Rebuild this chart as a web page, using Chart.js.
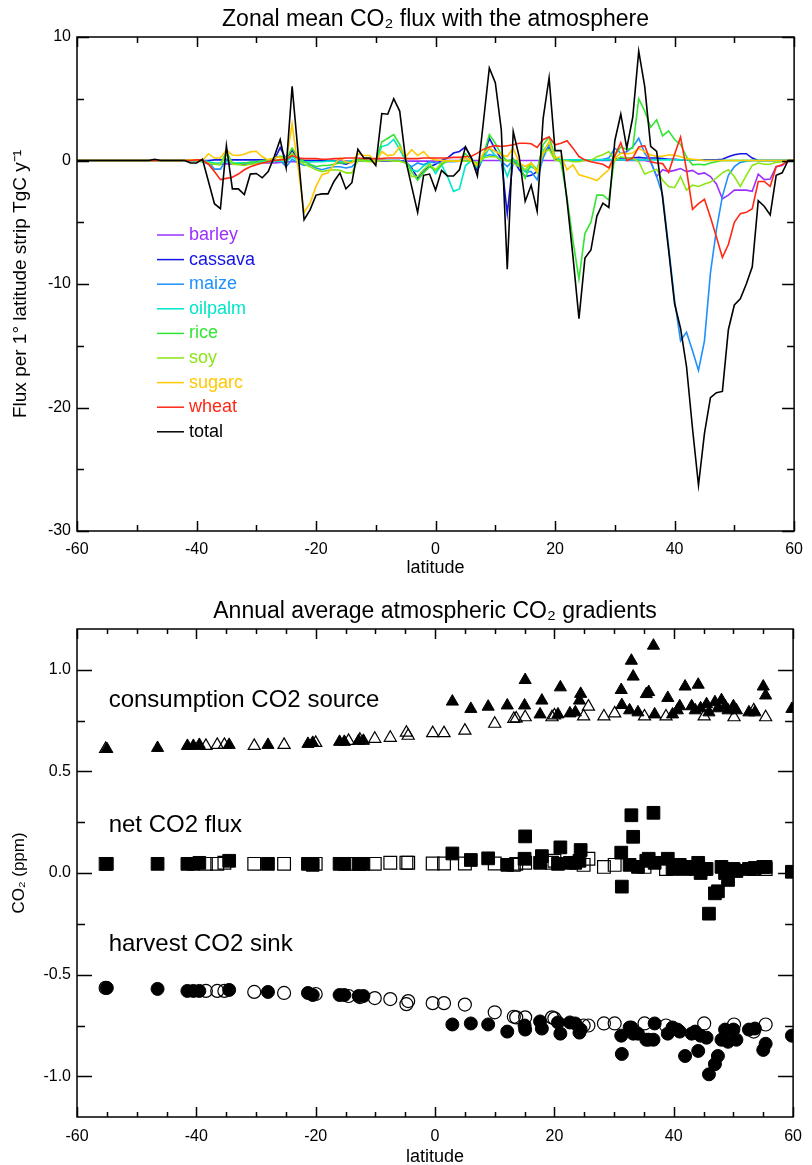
<!DOCTYPE html>
<html>
<head>
<meta charset="utf-8">
<script src="https://cdn.jsdelivr.net/npm/chart.js@4.4.1/dist/chart.umd.min.js"></script>
<style>
  body { margin: 0; background: #fff; }
  canvas { display: block; }
</style>
</head>
<body>
<canvas id="flux" width="812" height="585"></canvas>
<canvas id="gradient" width="812" height="580"></canvas>
<script>
// ---- top panel: zonal mean flux per 1 degree latitude strip ----
const lat = Array.from({ length: 121 }, (_, i) => i - 60);

const crops = ['barley', 'cassava', 'maize', 'oilpalm', 'rice', 'soy', 'sugarc', 'wheat', 'total'];
const cropColors = ['#9b30ff', '#1414e6', '#1e90ff', '#00e6c8', '#32e632', '#8ce614', '#ffc800', '#ff2814', '#000000'];

const barley = [
  0, 0, 0, 0, 0, 0, 0, 0, 0, 0,
  0, 0, 0, 0, 0, 0, 0, 0, 0, 0,
  0, -0.1, -0.3, -0.3, -0.3, -0.25, -0.3, -0.3, -0.3, -0.3,
  -0.2, -0.2, -0.2, -0.2, -0.15, -0.1, -0.1, -0.1, -0.1, -0.1,
  -0.05, -0.05, -0.05, -0.05, -0.05, -0.05, -0.05, -0.05, -0.05, -0.05,
  -0.05, -0.05, -0.05, -0.05, -0.05, -0.05, -0.05, -0.05, -0.05, -0.05,
  -0.05, 0, 0, 0, 0, 0, 0, 0, 0, 0,
  0, 0, 0, 0, 0, 0, 0, 0, 0, 0,
  0, 0, 0, 0, 0, 0, 0, 0, 0, 0,
  0, 0.05, 0, 0, 0, 0, -0.1, -1.3, -0.75, -0.9,
  -0.8, -0.65, -0.9, -0.8, -1.1, -1.0, -1.3, -1.9, -3.1, -2.8,
  -2.4, -2.4, -2.4, -2.5, -1.1, -1.55, -1.5, -0.5, -0.4, 0,
  0
];
const cassava = [
  0, 0, 0, 0, 0, 0, 0, 0, 0, 0,
  0, 0, 0, 0, 0, 0, 0, 0, 0, 0,
  0, 0, 0, 0.05, 0.05, 0.05, 0.05, 0.05, 0.05, 0.05,
  0.05, 0.05, 0.05, 0.05, 1.05, 0.1, 0.8, 0.1, 0, 0,
  0, 0, 0, 0, -0.2, -0.3, -0.1, 0, 0, 0,
  0, 0, 0, 0, 0, -0.1, -0.6, -1.4, -0.8, -0.5,
  -0.3, 0, 0.2, 0.6, 0.73, 1.1, 0.2, -0.85, 0.3, 1.8,
  0.9, 0.1, -4.3, 0.1, -0.75, -1.3, -1.2, -0.9, 0.6, 1.1,
  0.05, 0.05, 0.05, 0.05, 0.05, 0.05, 0.05, 0.05, 0.05, 0.05,
  0.1, 0.2, 0.2, 0.2, 0.25, 0.2, 0.2, 0.2, 0.15, 0.1,
  0.1, 0.05, 0.05, 0.05, 0.05, 0.05, 0.05, 0.05, 0.1, 0.3,
  0.46, 0.55, 0.55, 0.2, 0, 0, 0, 0, 0, 0,
  0
];
const maize = [
  0, 0, 0, 0, 0, 0, 0, 0, 0, 0,
  0, 0, 0, 0, 0, 0, 0, 0, 0, 0,
  0, 0, -0.1, -0.7, -0.7, 0.1, -0.3, -0.2, -0.2, -0.2,
  -0.2, -0.1, -0.1, -0.1, 0, -0.5, 0.1, -0.2, -0.4, -0.35,
  -0.6, -0.75, -0.6, -0.5, -0.5, -0.6, -0.5, -0.05, 0, 0,
  0, 0, 0, 0, 0, -0.2, -0.5, -0.2, -0.35, -0.1,
  -0.2, -0.2, -0.1, -0.1, -0.05, 0, 0, -0.2, 0.3, 0.46,
  0.4, -0.05, -0.5, 0, -0.35, -0.9, -0.9, -1.55, 0.2, 1.27,
  0.2, 0.05, 0.05, 0.05, 0.05, 0.05, 0.05, 0.05, 0.1, 0.2,
  1.0, 0.6, 0.7, 1.1, 1.8, 0.6, -0.1, -1.3, -2.8, -7.0,
  -11.3, -14.6, -13.9, -15.4, -17.0, -14.6, -9.1, -5.6, -2.9, -1.2,
  -0.5, -0.15, -0.05, 0, 0, 0, 0, 0, 0, 0,
  0
];
const oilpalm = [
  0, 0, 0, 0, 0, 0, 0, 0, 0, 0,
  0, 0, 0, 0, 0, 0, 0, 0, 0, 0,
  0, 0, -0.1, -0.2, -0.2, -0.1, -0.2, -0.2, -0.2, -0.15,
  -0.1, -0.1, -0.1, -0.05, -0.05, -0.1, 0.3, 0, -0.1, -0.1,
  -0.1, -0.1, -0.05, -0.05, -0.1, -0.1, 0, 0, 0, 0,
  0, 1.13, 1.27, 1.7, 0.9, -0.05, -0.75, -0.9, -0.43, -0.2,
  -1.05, -0.35, -1.3, -2.5, -2.3, -0.43, 0, -0.6, 0.2, 1.0,
  0.4, 0, -1.3, 0, -0.1, -0.9, -0.5, -0.75, 0.8, 1.4,
  0.2, 0.05, 0.05, 0.05, 0.05, 0.05, 0.05, 0.05, 0.05, 0.05,
  0.05, 0.05, 0.05, 0.05, 0.05, 0.05, 0.05, 0.05, 0.05, 0.05,
  0.05, 0.05, 0.05, 0.05, 0.05, 0, 0, 0, 0, 0,
  0, 0, 0, 0, 0, 0, 0, 0, 0, 0,
  0
];
const rice = [
  0, 0, 0, 0, 0, 0, 0, 0, 0, 0,
  0, 0, 0, 0, 0, 0, 0, 0, 0, 0,
  0, -0.1, -0.2, -0.3, -0.3, 0.7, -0.2, -0.3, -0.2, -0.15,
  -0.1, 0, 0.05, 0.2, 0.35, 0.2, 1.0, 0.3, -0.1, -0.3,
  -0.5, -0.4, -0.4, -0.3, -0.2, -0.2, -0.1, 0.05, 0.05, 0,
  -0.1, 1.5, 1.8, 2.1, 1.3, 0.05, -0.9, -1.6, -1.0, -0.5,
  -0.8, -0.35, -0.05, -0.05, -0.05, 0.55, 0, -0.5, 0.4, 2.1,
  1.4, 0.46, -0.05, 0.1, -0.35, -1.43, -0.2, -0.75, 1.27, 1.9,
  0.32, -0.2, -3.0, -6.5, -9.6, -5.9, -5.0, -2.8, -2.8, -3.2,
  0.4, 1.1, 0.9, 1.0, 5.0, 4.0, 2.7, 3.3, 2.0, 2.4,
  1.7, 1.3, 0.3, -0.35, -0.3, -0.35, -0.2, -0.1, 0, 0,
  0, 0, 0, 0, 0, 0, 0, 0, 0, 0,
  0
];
const soy = [
  0, 0, 0, 0, 0, 0, 0, 0, 0, 0,
  0, 0, 0, 0, 0, 0, 0, 0, 0, 0,
  0, -0.1, -0.2, -0.3, -0.35, 0.5, -0.3, -0.35, -0.4, -0.3,
  -0.25, -0.2, -0.1, 0, 0.1, 0, 0.6, 0, -0.3, -0.5,
  -0.75, -0.9, -0.8, -0.75, -0.8, -1.0, -1.0, 0, -0.05, -0.1,
  -0.1, 0, 0, -0.05, -0.05, -0.2, -1.3, -1.3, -0.75, -0.3,
  -0.75, -0.2, -0.05, -0.05, -0.05, -0.05, -0.05, -0.2, 0.2, 0.3,
  0.3, 0.05, 0, -0.2, -0.5, -0.75, -0.2, -1.0, 0.6, 0.9,
  0, 0, 0, -0.1, -0.1, 0, 0, 0.3, 0.46, 0.73,
  0, 0.3, 0.2, 0.2, -0.1, -1.1, -0.9, -0.7, -1.6, -2.1,
  -2.2, -1.3, -2.4, -2.0, -2.1, -1.9, -1.75, -1.4, -1.0, -0.75,
  -1.3, -2.1, -1.2, -0.4, -0.2, -0.3, -0.3, -0.15, -0.1, 0,
  0
];
const sugarc = [
  0, 0, 0, 0, 0, 0, 0, 0, 0, 0,
  0, 0, 0, 0, 0, 0, 0, 0, 0, 0.05,
  0.05, 0, 0.55, 0.2, 0.2, 0.85, 0.45, 0.4, 0.5, 0.7,
  0.75, 0.3, 0.05, 0.2, 0.3, -0.1, 2.95, -0.6, -4.2, -3.45,
  -2.1, -1.15, -1.0, -0.35, 0.2, -0.13, -0.2, 0.55, 0.4, 0.4,
  -0.2, 0.73, 0.4, 0.46, 1.1, 0.3, 0.87, 0.4, 0.73, 0.2,
  0.05, 0, 0, -0.05, -0.05, 0.2, 0, -0.4, 0.6, 1.0,
  0.73, 0.46, 0.32, 1.0, -0.2, -0.49, -0.2, -0.89, 0.6, 1.54,
  0.19, 0.32, -0.75, -0.35, -1.16, -1.3, -1.43, -1.62, -1.16, -0.75,
  0.19, 0.6, 0.55, 0.6, 1.0, 0.7, 0.45, 0.35, 0.35, 0.45,
  0.45, 0.3, 0.15, 0.1, 0.05, 0, 0, 0, 0, 0,
  0, 0, 0, 0, 0, 0, 0, 0, 0, 0,
  0
];
const wheat = [
  0, 0, 0, 0, 0, 0, 0, 0, 0, 0,
  0, 0, 0, 0, 0, 0, 0, 0, 0, 0,
  0.05, 0.05, -0.3, -0.9, -1.55, -1.45, -1.35, -1.1, -0.75, -0.5,
  -0.35, -0.2, -0.1, 0, 0.05, 0.1, 0.4, 0.2, 0.15, 0.15,
  0.15, 0.1, 0.1, 0.15, 0.15, 0.2, 0.2, 0.2, 0.15, 0.15,
  0.15, 0.15, 0.2, 0.2, 0.2, 0.15, 0.15, 0.15, 0.2, 0.2,
  0.2, 0.2, 0.2, 0.25, 0.25, 0.3, 0.35, 0.6, 0.9, 1.1,
  1.2, 1.13, 1.2, 1.27, 1.4, 1.4, 1.35, 1.05, 1.7, 1.9,
  1.27, 1.4, 1.6, 1.0, 0.32, 0.05, -0.1, -0.2, -0.3, -0.6,
  0.4, 1.45, 0, 0.2, 1.1, 1.2, -0.1, -0.2, -0.25, -0.97,
  0.5, 1.9, -0.75, -3.95, -3.5, -3.14, -4.6, -6.2, -7.85, -6.8,
  -5.0, -4.3, -4.2, -3.9, -1.7, -1.7, -2.1, -0.5, -0.35, 0,
  0
];
const total = [
  0, 0, 0, 0, 0, 0, 0, 0, 0, 0,
  0, 0, 0, 0.1, 0, 0, 0, 0, 0, -0.2,
  -0.2, 0.1, -1.7, -3.5, -3.9, 1.2, -2.3, -2.3, -2.75, -1.1,
  -1.05, -1.4, -0.9, 0.3, 1.7, -0.6, 6.0, 0.6, -4.8, -4.0,
  -2.8, -2.7, -2.7, -1.7, -1.0, -2.3, -1.8, 0.9, 0.2, 0.2,
  -0.4, 3.8, 3.75, 5.0, 4.0, 0.05, -2.1, -4.2, -1.2, -1.1,
  -2.4, -0.8, -1.25, -1.25, -0.75, 1.1, 0.2, -1.25, 3.1, 7.5,
  6.3, 2.5, -8.8, 2.35, 0.3, -3.3, -2.0, -4.1, 3.4, 6.7,
  0.8, 0.8, -3.25, -7.8, -12.8, -7.9, -7.25, -4.5, -3.45, -3.8,
  1.6, 3.75, 1.0, 3.5, 8.85, 6.0, 1.15, 0.73, -3.05, -7.25,
  -11.6, -13.6, -16.7, -21.7, -26.3, -22.1, -19.2, -18.8, -18.7, -13.7,
  -11.7, -11.2, -10.0, -8.6, -3.25, -3.7, -4.4, -1.2, -1.0, 0,
  0
];
const cropSeries = [barley, cassava, maize, oilpalm, rice, soy, sugarc, wheat, total];

const latTicks = [-60, -40, -20, 0, 20, 40, 60];
const fluxTicks = [-30, -20, -10, 0, 10];

// ---- bottom panel: station gradients (filled and open symbols) ----
const filledLat = [-55.0, -46.5, -41.5, -40.5, -39.5, -34.5, -28.0, -21.3, -20.5, -16.0, -15.2, -12.8, -12.0,
  2.9, 6.0, 8.9, 12.1, 15.0, 15.1, 17.9, 17.6, 20.6, 21.0, 22.6, 23.5, 24.2, 24.4,
  31.2, 31.3, 32.6, 32.9, 33.2, 34.0, 35.4, 35.8, 36.6, 36.8, 39.0, 39.8, 40.6, 41.0, 41.9,
  43.0, 43.6, 44.1, 44.5, 45.5, 45.9, 46.9, 47.4, 48.0, 48.6, 49.1, 50.0, 50.5, 52.6, 53.6, 55.0, 55.4, 59.8];
const filledSource = [0.61, 0.615, 0.625, 0.625, 0.63, 0.63, 0.63, 0.635, 0.64, 0.645, 0.645, 0.65, 0.65,
  0.843, 0.807, 0.818, 0.824, 0.824, 0.949, 0.848, 0.78, 0.78, 0.913, 0.785, 0.79, 0.848, 0.881,
  0.90, 0.826, 0.80, 1.044, 0.966, 0.79, 0.88, 0.89, 1.118, 0.78, 0.861, 0.78, 0.80, 0.82, 0.917,
  0.82, 0.80, 0.926, 0.81, 0.83, 0.79, 0.84, 0.81, 0.85, 0.82, 0.80, 0.82, 0.80, 0.79, 0.79, 0.917, 0.873, 0.807];
const filledNet = [0.045, 0.045, 0.045, 0.045, 0.05, 0.06, 0.045, 0.045, 0.04, 0.045, 0.045, 0.045, 0.045,
  0.096, 0.064, 0.072, 0.04, 0.07, 0.18, 0.083, 0.05, 0.045, 0.126, 0.05, 0.05, 0.06, 0.113,
  0.1, -0.067, 0.04, 0.284, 0.178, 0.03, 0.06, 0.07, 0.296, 0.05, 0.07, 0.02, 0.03, 0.04, 0.02,
  0.03, 0.02, 0.05, 0.0, 0.02, -0.2, -0.1, -0.09, 0.03, 0.0, -0.034, 0.02, 0.01, 0.02, 0.025, 0.03, 0.03, 0.006];
const filledSink = [-0.565, -0.57, -0.58, -0.58, -0.58, -0.575, -0.585, -0.59, -0.6, -0.6, -0.6, -0.605, -0.605,
  -0.745, -0.74, -0.745, -0.78, -0.75, -0.77, -0.765, -0.73, -0.735, -0.79, -0.735, -0.74, -0.785, -0.77,
  -0.8, -0.89, -0.76, -0.76, -0.79, -0.79, -0.82, -0.82, -0.82, -0.74, -0.79, -0.76, -0.77, -0.78, -0.9,
  -0.79, -0.78, -0.875, -0.8, -0.81, -0.99, -0.94, -0.9, -0.82, -0.77, -0.83, -0.77, -0.82, -0.77, -0.765, -0.87, -0.84, -0.8];

const openLat = [-55.2, -38.4, -36.5, -35.3, -30.3, -25.3, -20.0, -14.5, -12.6, -10.1, -7.5, -4.8, -4.5,
  -0.4, 1.5, 5.0, 10.0, 13.2, 13.6, 15.1, 19.6, 20.0, 24.9, 25.7, 28.3, 30.1, 35.1, 38.7, 45.1, 50.1, 53.4, 55.4];
const openSource = [0.61, 0.625, 0.63, 0.63, 0.625, 0.63, 0.64, 0.65, 0.655, 0.66, 0.665, 0.69, 0.675,
  0.688, 0.688, 0.70, 0.734, 0.758, 0.76, 0.766, 0.766, 0.775, 0.77, 0.818, 0.77, 0.785, 0.77, 0.77, 0.77, 0.766, 0.80, 0.766];
const openNet = [0.045, 0.045, 0.045, 0.05, 0.045, 0.045, 0.045, 0.045, 0.045, 0.045, 0.05, 0.05, 0.05,
  0.047, 0.047, 0.047, 0.047, 0.04, 0.045, 0.05, 0.05, 0.06, 0.04, 0.07, 0.03, 0.04, 0.03, 0.02, 0.02, 0.013, 0.02, 0.02];
const openSink = [-0.565, -0.58, -0.58, -0.58, -0.585, -0.59, -0.595, -0.605, -0.61, -0.615, -0.62, -0.645, -0.63,
  -0.64, -0.64, -0.647, -0.685, -0.707, -0.71, -0.71, -0.71, -0.715, -0.75, -0.75, -0.74, -0.74, -0.74, -0.75, -0.74, -0.745, -0.78, -0.745];

const ppmTicks = [-1.0, -0.5, 0.0, 0.5, 1.0];
const groupLabels = ['consumption CO2 source', 'net CO2 flux', 'harvest CO2 sink'];

// ---- shared bits ----
Chart.defaults.font.family = '"Liberation Sans", Arial, Helvetica, sans-serif';
Chart.defaults.color = '#000';

const frameTicks = {
  id: 'frameTicks',
  afterDraw(chart, args, o) {
    const { ctx, chartArea: a, scales: { x, y } } = chart;
    ctx.save();
    ctx.strokeStyle = '#000';
    ctx.lineWidth = 1.5;
    ctx.strokeRect(a.left, a.top, a.right - a.left, a.bottom - a.top);
    ctx.beginPath();
    const isMajor = (v, step) => Math.abs(v / step - Math.round(v / step)) < 1e-6;
    for (let v = Math.ceil(x.min / o.xMinor) * o.xMinor; v <= x.max + 1e-9; v += o.xMinor) {
      const px = Math.round(x.getPixelForValue(v)) + 0.5;
      const len = isMajor(v, o.xMajor) ? o.xMajorLen : o.xMinorLen;
      ctx.moveTo(px, a.bottom); ctx.lineTo(px, a.bottom - len);
      ctx.moveTo(px, a.top); ctx.lineTo(px, a.top + len);
    }
    for (let v = Math.ceil(y.min / o.yMinor - 1e-9) * o.yMinor; v <= y.max + 1e-9; v += o.yMinor) {
      const py = Math.round(y.getPixelForValue(v)) + 0.5;
      const len = isMajor(v, o.yMajor) ? o.yMajorLen : o.yMinorLen;
      ctx.moveTo(a.left, py); ctx.lineTo(a.left + len, py);
      ctx.moveTo(a.right, py); ctx.lineTo(a.right - len, py);
    }
    ctx.stroke();
    ctx.restore();
  }
};

const inlineLegend = {
  id: 'inlineLegend',
  afterDatasetsDraw(chart, args, o) {
    if (!o.display) return;
    const { ctx, chartArea: a } = chart;
    ctx.save();
    ctx.font = o.font;
    ctx.textBaseline = 'middle';
    chart.data.datasets.forEach((ds, i) => {
      const y = a.top + o.top + i * o.step;
      const x0 = a.left + o.left;
      ctx.strokeStyle = ds.borderColor;
      ctx.lineWidth = 1.5;
      ctx.beginPath();
      ctx.moveTo(x0, y); ctx.lineTo(x0 + o.len, y);
      ctx.stroke();
      ctx.fillStyle = ds.borderColor;
      ctx.fillText(ds.label, x0 + o.len + o.gap, y);
    });
    ctx.restore();
  }
};

const groupText = {
  id: 'groupText',
  afterDatasetsDraw(chart, args, o) {
    if (!o.display) return;
    const { ctx, scales: { x, y } } = chart;
    ctx.save();
    ctx.font = o.font;
    ctx.fillStyle = '#000';
    ctx.textBaseline = 'middle';
    o.labels.forEach((t, i) => ctx.fillText(t, x.getPixelForValue(o.lat), y.getPixelForValue(o.at[i])));
    ctx.restore();
  }
};

function xAxis(height, tickPad, titlePad) {
  return {
    type: 'linear', min: -60, max: 60,
    grid: { display: false, drawTicks: false }, border: { display: false },
    afterBuildTicks: s => { s.ticks = latTicks.map(v => ({ value: v })); },
    ticks: { font: { size: 16 }, padding: tickPad, maxRotation: 0, callback: v => String(v) },
    title: { display: true, text: 'latitude', font: { size: 18, lineHeight: 1 }, padding: { top: 0, bottom: titlePad } },
    afterFit: s => { s.height = height; }
  };
}

function yAxis(min, max, tickList, fmt, titleText, titleSize) {
  return {
    min, max,
    grid: { display: false, drawTicks: false }, border: { display: false },
    afterBuildTicks: s => { s.ticks = tickList.map(v => ({ value: v })); },
    ticks: { font: { size: 16 }, padding: 6, callback: fmt },
    title: { display: true, text: titleText, font: { size: titleSize, lineHeight: 1 }, padding: { top: 11, bottom: 0 } },
    afterFit: s => { s.width = 77; }
  };
}

// ---- top chart ----
new Chart(document.getElementById('flux'), {
  type: 'line',
  data: {
    datasets: crops.map((name, i) => ({
      label: name,
      data: lat.map((x, j) => ({ x, y: cropSeries[i][j] })),
      borderColor: cropColors[i],
      borderWidth: 1.6,
      pointRadius: 0,
      tension: 0,
      order: crops.length - i
    }))
  },
  options: {
    responsive: false,
    animation: false,
    layout: { padding: { left: 0, right: 11, top: 0, bottom: 0 } },
    scales: {
      x: xAxis(54, 9, 8),
      y: yAxis(-30, 10, fluxTicks, v => String(v), 'Flux per 1° latitude strip TgC y⁻¹', 19)
    },
    plugins: {
      legend: { display: false },
      tooltip: { enabled: false },
      title: {
        display: true,
        fullSize: false,
        text: 'Zonal mean CO₂ flux with the atmosphere',
        font: { size: 23, weight: 'normal', lineHeight: 1 },
        color: '#000',
        padding: { top: 8, bottom: 6 }
      },
      frameTicks: { xMajor: 20, xMinor: 10, xMajorLen: 10, xMinorLen: 6, yMajor: 10, yMinor: 5, yMajorLen: 12, yMinorLen: 7 },
      inlineLegend: { display: true, font: '18px "Liberation Sans", Arial, sans-serif', top: 198, step: 24.6, left: 80, len: 27, gap: 5 }
    }
  },
  plugins: [frameTicks, inlineLegend]
});

// ---- bottom chart ----
function pts(lats, vals) { return lats.map((x, i) => ({ x, y: vals[i] })); }
const filledStyle = { backgroundColor: '#000', borderColor: '#000', borderWidth: 1 };
const openStyle = { backgroundColor: 'rgba(0,0,0,0)', borderColor: '#000', borderWidth: 1.2 };

new Chart(document.getElementById('gradient'), {
  type: 'scatter',
  data: {
    datasets: [
      { label: 'source (filled)', data: pts(filledLat, filledSource), pointStyle: 'triangle', pointRadius: 7, ...filledStyle },
      { label: 'net (filled)', data: pts(filledLat, filledNet), pointStyle: 'rect', pointRadius: 9, ...filledStyle },
      { label: 'sink (filled)', data: pts(filledLat, filledSink), pointStyle: 'circle', pointRadius: 6.5, ...filledStyle },
      { label: 'source (open)', data: pts(openLat, openSource), pointStyle: 'triangle', pointRadius: 7, ...openStyle },
      { label: 'net (open)', data: pts(openLat, openNet), pointStyle: 'rect', pointRadius: 9, ...openStyle },
      { label: 'sink (open)', data: pts(openLat, openSink), pointStyle: 'circle', pointRadius: 6.5, ...openStyle }
    ]
  },
  options: {
    responsive: false,
    animation: false,
    layout: { padding: { left: 0, right: 11, top: 0, bottom: 0 } },
    scales: {
      x: xAxis(48, 10, -1),
      y: yAxis(-1.2, 1.2, ppmTicks, v => v.toFixed(1), 'CO₂ (ppm)', 17)
    },
    plugins: {
      legend: { display: false },
      tooltip: { enabled: false },
      title: {
        display: true,
        fullSize: false,
        text: 'Annual average atmospheric CO₂ gradients',
        font: { size: 23, weight: 'normal', lineHeight: 1 },
        color: '#000',
        padding: { top: 15, bottom: 6 }
      },
      frameTicks: { xMajor: 20, xMinor: 5, xMajorLen: 10, xMinorLen: 5, yMajor: 0.5, yMinor: 0.25, yMajorLen: 15, yMinorLen: 8 },
      groupText: { display: true, font: '24px "Liberation Sans", Arial, sans-serif', lat: -54.7, at: [0.85, 0.235, -0.353], labels: groupLabels }
    }
  },
  plugins: [frameTicks, groupText]
});
</script>
</body>
</html>
